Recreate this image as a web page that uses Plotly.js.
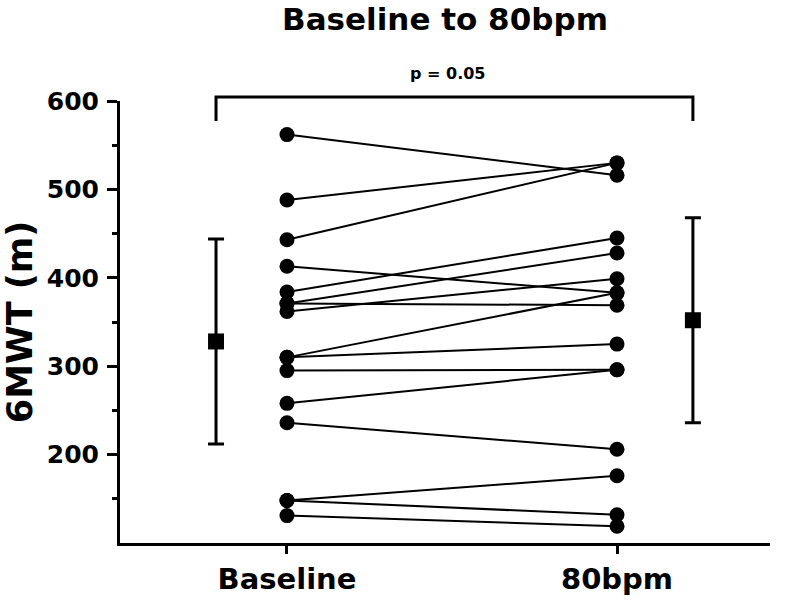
<!DOCTYPE html>
<html>
<head>
<meta charset="utf-8">
<script src="https://cdn.plot.ly/plotly-3.0.1.min.js"></script>
<style>html,body{margin:0;padding:0;background:#fff;}</style>
</head>
<body>
<div id="chart" style="width:787px;height:600px;"></div>
<script>
// ---- data ----
const categories = ['Baseline', '80bpm'];
const baselineValues = [562, 488, 443, 413, 384, 371, 371, 362, 310, 310, 295, 258, 236, 148, 148, 131];
const bpm80Values    = [516, 530, 530, 383, 445, 428, 369, 399, 383, 325, 296, 296, 206, 176, 132, 119];
const meanValues = [328, 352];
const sdValues   = [116, 116];
const yTickVals  = [200, 300, 400, 500, 600];
const yMinorVals = [150, 250, 350, 450, 550];
const titleText = 'Baseline to 80bpm';
const yTitleText = '6MWT (m)';
const pText = 'p = 0.05';

// ---- layout helpers ----
const FONT = 'DejaVu Sans, Liberation Sans, Arial, sans-serif';
const catPos = [0, 1];
const meanPos = [-0.215, 1.23];

const lx = [], ly = [];
for (let i = 0; i < baselineValues.length; i++) {
  lx.push(catPos[0], catPos[1], null);
  ly.push(baselineValues[i], bpm80Values[i], null);
}

const traces = [
  {
    type: 'scatter', mode: 'lines+markers',
    x: lx, y: ly, connectgaps: false,
    line: {color: '#000', width: 2},
    marker: {symbol: 'circle', size: 15, color: '#000'},
    cliponaxis: false, hoverinfo: 'skip', showlegend: false
  },
  {
    type: 'scatter', mode: 'markers',
    x: meanPos, y: meanValues,
    marker: {symbol: 'square', size: 16, color: '#000'},
    error_y: {type: 'data', array: sdValues, visible: true, color: '#000', thickness: 3, width: 8},
    cliponaxis: false, showlegend: false
  }
];

const layout = {
  width: 787, height: 600,
  margin: {l: 120, r: 17, t: 101, b: 57},
  paper_bgcolor: '#fff', plot_bgcolor: '#fff',
  showlegend: false,
  title: {
    text: titleText,
    font: {family: FONT, size: 31, color: '#000', weight: 'bold'},
    x: 0.5, xref: 'paper', xanchor: 'center',
    y: 1 - 19/600, yref: 'container', yanchor: 'middle'
  },
  xaxis: {
    range: [-0.506, 1.4636],
    tickmode: 'array', tickvals: catPos, ticktext: categories,
    showline: true, linecolor: '#000', linewidth: 3,
    ticks: 'outside', ticklen: 8, tickwidth: 3, tickcolor: '#000',
    tickfont: {family: FONT, size: 29, color: '#000', weight: 'bold'},
    showgrid: false, zeroline: false, fixedrange: true
  },
  yaxis: {
    range: [100, 600],
    tickmode: 'array', tickvals: yTickVals,
    showline: true, linecolor: '#000', linewidth: 3,
    ticks: 'outside', ticklen: 10, tickwidth: 3, tickcolor: '#000',
    ticklabelstandoff: 3,
    minor: {tickmode: 'array', tickvals: yMinorVals, ticks: 'outside', ticklen: 5, tickwidth: 3, tickcolor: '#000', showgrid: false},
    tickfont: {family: FONT, size: 25, color: '#000', weight: 'bold'},
    title: {text: yTitleText, font: {family: FONT, size: 35, color: '#000', weight: 'bold'}, standoff: 6},
    showgrid: false, zeroline: false, fixedrange: true
  },
  shapes: [
    {
      type: 'path', xref: 'x', yref: 'paper',
      path: 'M ' + meanPos[0] + ',0.955 L ' + meanPos[0] + ',1.009 L ' + meanPos[1] + ',1.009 L ' + meanPos[1] + ',0.955',
      line: {color: '#000', width: 3}
    }
  ],
  annotations: [
    {
      text: pText, xref: 'x', yref: 'paper',
      x: 0.485, y: (543 - 73) / 442, xanchor: 'center', yanchor: 'middle',
      showarrow: false,
      font: {family: FONT, size: 16, color: '#000', weight: 'bold'}
    }
  ]
};

Plotly.newPlot('chart', traces, layout, {displayModeBar: false, staticPlot: true});
</script>
</body>
</html>
